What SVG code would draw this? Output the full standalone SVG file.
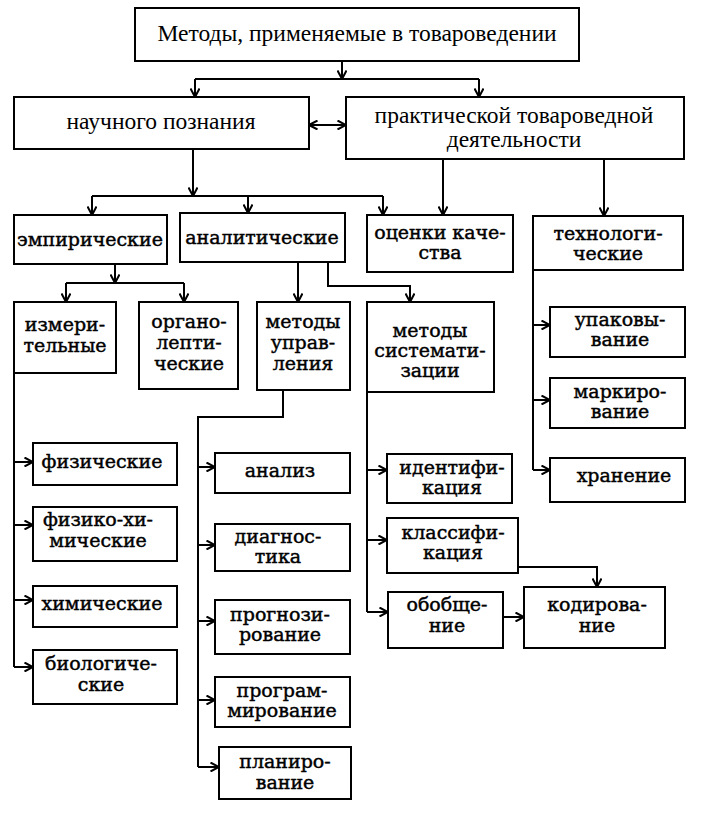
<svg xmlns="http://www.w3.org/2000/svg" width="702" height="819" viewBox="0 0 702 819">
<defs>
<marker id="ah" viewBox="0 0 10 10" refX="9.5" refY="5" markerWidth="10" markerHeight="10" markerUnits="userSpaceOnUse" orient="auto-start-reverse">
<path d="M1,0.5 L9.5,5 L1,9.5" fill="none" stroke="#000" stroke-width="2"/>
</marker>
<style>
rect{fill:#fff;stroke:#000;stroke-width:2}
.t{font-family:"Liberation Serif","Times New Roman",serif;font-size:23.5px;text-anchor:middle;fill:#000}
.n{font-family:"DejaVu Serif","Liberation Serif",serif;font-size:19px;text-anchor:middle;fill:#000;stroke:#000;stroke-width:0.45}
#connectors path{fill:none;stroke:#000;stroke-width:2}
.a{marker-end:url(#ah)}
.d{marker-start:url(#ah);marker-end:url(#ah)}
</style>
</defs>
<rect x="0" y="0" width="702" height="819" style="stroke:none"/>
<g id="connectors">
<path class="a" d="M342,61 V79"/>
<path d="M195,79 H479"/>
<path class="a" d="M195,79 V97"/>
<path class="a" d="M479,79 V97"/>
<path class="d" d="M309,125 H346"/>
<path class="a" d="M193,149 V196"/>
<path d="M92,196 H383"/>
<path class="a" d="M92,196 V215"/>
<path class="a" d="M248,196 V213"/>
<path class="a" d="M383,196 V215"/>
<path class="a" d="M443,159 V215"/>
<path class="a" d="M604,159 V216"/>
<path class="a" d="M115,264 V283"/>
<path d="M66,283 H184"/>
<path class="a" d="M66,283 V302"/>
<path class="a" d="M184,283 V302"/>
<path class="a" d="M298,262 V302"/>
<path class="a" d="M328,262 V286 H410 V302"/>
<path d="M533,270 V470"/>
<path class="a" d="M533,325 H550"/>
<path class="a" d="M533,400 H550"/>
<path class="a" d="M533,470 H550"/>
<path d="M14,373 V667"/>
<path class="a" d="M14,462 H33"/>
<path class="a" d="M14,525 H33"/>
<path class="a" d="M14,600 H33"/>
<path class="a" d="M14,667 H33"/>
<path d="M283,390 V417 H198 V767"/>
<path class="a" d="M198,467 H215"/>
<path class="a" d="M198,545 H215"/>
<path class="a" d="M198,621 H215"/>
<path class="a" d="M198,700 H215"/>
<path class="a" d="M198,767 H219"/>
<path d="M367,392 V612"/>
<path class="a" d="M367,470 H387"/>
<path class="a" d="M367,540 H387"/>
<path class="a" d="M367,612 H388"/>
<path class="a" d="M518,567 H597 V587"/>
<path class="a" d="M503,617 H524"/>
</g>
<g id="n-top"><rect x="135" y="8" width="444" height="53"/><text class="t" x="357" y="41">Методы, применяемые в товароведении</text></g>
<g id="n-science"><rect x="14" y="97" width="295" height="52"/><text class="t" x="161" y="129">научного познания</text></g>
<g id="n-practice"><rect x="346" y="97" width="338" height="62"/><text class="t" x="514" y="123">практической товароведной</text><text class="t" x="514" y="147">деятельности</text></g>
<g id="n-empir"><rect x="14" y="215" width="153" height="49"/><text class="n" x="90" y="246">эмпирические</text></g>
<g id="n-analit"><rect x="180" y="213" width="165" height="49"/><text class="n" x="262" y="244">аналитические</text></g>
<g id="n-quality"><rect x="367" y="215" width="146" height="57"/><text class="n" x="440" y="239">оценки каче-</text><text class="n" x="440" y="259">ства</text></g>
<g id="n-tech"><rect x="533" y="216" width="150" height="54"/><text class="n" x="608" y="240">технологи-</text><text class="n" x="608" y="260">ческие</text></g>
<g id="n-measure"><rect x="14" y="302" width="102" height="71"/><text class="n" x="65" y="331">измери-</text><text class="n" x="65" y="352">тельные</text></g>
<g id="n-organo"><rect x="139" y="302" width="99" height="87"/><text class="n" x="189" y="328">органо-</text><text class="n" x="189" y="349">лепти-</text><text class="n" x="189" y="370">ческие</text></g>
<g id="n-manage"><rect x="257" y="302" width="93" height="88"/><text class="n" x="303" y="328">методы</text><text class="n" x="303" y="349">управ-</text><text class="n" x="303" y="370">ления</text></g>
<g id="n-system"><rect x="367" y="302" width="127" height="90"/><text class="n" x="430" y="337">методы</text><text class="n" x="430" y="357">системати-</text><text class="n" x="430" y="377">зации</text></g>
<g id="n-pack"><rect x="550" y="307" width="135" height="50"/><text class="n" x="620" y="326">упаковы-</text><text class="n" x="620" y="346">вание</text></g>
<g id="n-mark"><rect x="550" y="378" width="135" height="50"/><text class="n" x="620" y="398">маркиро-</text><text class="n" x="620" y="418">вание</text></g>
<g id="n-store"><rect x="550" y="458" width="135" height="44"/><text class="n" x="624" y="482">хранение</text></g>
<g id="n-phys"><rect x="33" y="443" width="144" height="42"/><text class="n" x="102" y="468">физические</text></g>
<g id="n-physchem"><rect x="33" y="507" width="144" height="54"/><text class="n" x="98" y="526">физико-хи-</text><text class="n" x="98" y="547">мические</text></g>
<g id="n-chem"><rect x="33" y="586" width="144" height="41"/><text class="n" x="102" y="610">химические</text></g>
<g id="n-bio"><rect x="33" y="650" width="144" height="54"/><text class="n" x="101" y="670">биологиче-</text><text class="n" x="101" y="691">ские</text></g>
<g id="n-analysis"><rect x="215" y="453" width="135" height="40"/><text class="n" x="280" y="477">анализ</text></g>
<g id="n-diag"><rect x="215" y="524" width="135" height="47"/><text class="n" x="278" y="543">диагнос-</text><text class="n" x="278" y="563">тика</text></g>
<g id="n-forecast"><rect x="215" y="600" width="135" height="54"/><text class="n" x="280" y="621">прогнози-</text><text class="n" x="280" y="641">рование</text></g>
<g id="n-program"><rect x="215" y="677" width="135" height="50"/><text class="n" x="282" y="697">програм-</text><text class="n" x="282" y="717">мирование</text></g>
<g id="n-plan"><rect x="219" y="747" width="132" height="52"/><text class="n" x="285" y="768">планиро-</text><text class="n" x="285" y="789">вание</text></g>
<g id="n-ident"><rect x="387" y="454" width="125" height="49"/><text class="n" x="452" y="474">идентифи-</text><text class="n" x="452" y="494">кация</text></g>
<g id="n-class"><rect x="387" y="518" width="131" height="55"/><text class="n" x="453" y="539">классифи-</text><text class="n" x="453" y="559">кация</text></g>
<g id="n-general"><rect x="388" y="592" width="115" height="56"/><text class="n" x="447" y="611">обобще-</text><text class="n" x="447" y="632">ние</text></g>
<g id="n-code"><rect x="524" y="587" width="141" height="61"/><text class="n" x="597" y="611">кодирова-</text><text class="n" x="597" y="632">ние</text></g>
</svg>
